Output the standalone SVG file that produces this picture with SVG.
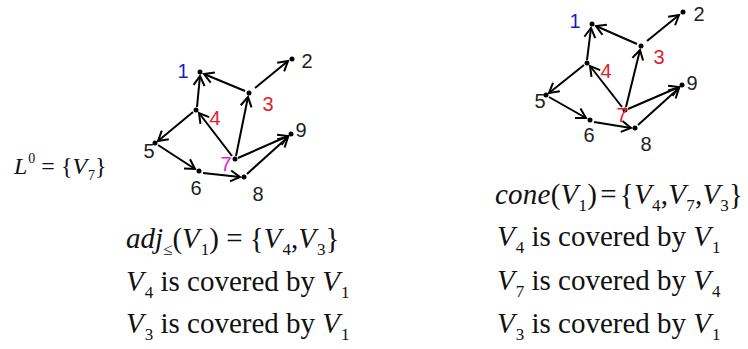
<svg xmlns="http://www.w3.org/2000/svg" width="748" height="349" viewBox="0 0 748 349">
<defs>
<marker id="arr" markerUnits="userSpaceOnUse" markerWidth="16" markerHeight="16" refX="12" refY="8" orient="auto">
<path d="M2.5,2.5 L12,8 L2.5,13.5" fill="none" stroke="#000" stroke-width="2" stroke-linejoin="miter"/>
</marker>
</defs>
<style>
.e{stroke:#000;stroke-width:2;fill:none;marker-end:url(#arr)}
.d{fill:#000}
.n{font-family:'Liberation Sans',Arial,sans-serif;font-size:20px;fill:#222}
.b{fill:#1a1acc}
.r{fill:#e3202a}
.m{fill:#e020e0}
.t{font-family:'Liberation Serif','Times New Roman',serif;font-size:29px;fill:#111}
.i{font-style:italic}
.s{font-size:17px}
</style>
<rect width="748" height="349" fill="#fff"/>
<g id="connectors-left">
<line class="e" x1="197" y1="107" x2="200" y2="76"/>
<line class="e" x1="245" y1="91" x2="204" y2="74"/>
<line class="e" x1="255" y1="88" x2="288" y2="61"/>
<line class="e" x1="193" y1="112" x2="158" y2="141"/>
<line class="e" x1="158" y1="145" x2="195" y2="169"/>
<line class="e" x1="203" y1="173" x2="240" y2="177"/>
<line class="e" x1="232" y1="156" x2="199" y2="113"/>
<line class="e" x1="236" y1="156" x2="248" y2="97"/>
<line class="e" x1="238" y1="158" x2="288" y2="136"/>
<line class="e" x1="247" y1="174" x2="288" y2="137"/>
</g>
<g id="L1"><circle class="d" cx="200" cy="72" r="2.5"/><text class="n b" x="183" y="78" text-anchor="middle">1</text></g>
<g id="L2"><circle class="d" cx="292" cy="59" r="2.5"/><text class="n" x="307" y="68" text-anchor="middle">2</text></g>
<g id="L3"><circle class="d" cx="249" cy="93" r="2.5"/><text class="n r" x="268" y="111" text-anchor="middle">3</text></g>
<g id="L4"><circle class="d" cx="196" cy="110" r="2.5"/><text class="n r" x="215" y="125" text-anchor="middle">4</text></g>
<g id="L5"><circle class="d" cx="155" cy="143" r="2.5"/><text class="n" x="149" y="158" text-anchor="middle">5</text></g>
<g id="L6"><circle class="d" cx="199" cy="171" r="2.5"/><text class="n" x="196" y="195" text-anchor="middle">6</text></g>
<g id="L7"><circle class="d" cx="235" cy="159" r="2.5"/><text class="n m" x="226" y="171" text-anchor="middle">7</text></g>
<g id="L8"><circle class="d" cx="244" cy="177" r="2.5"/><text class="n" x="258" y="201" text-anchor="middle">8</text></g>
<g id="L9"><circle class="d" cx="291" cy="134" r="2.5"/><text class="n" x="301" y="137" text-anchor="middle">9</text></g>

<g id="connectors-right">
<line class="e" x1="587" y1="60" x2="591" y2="28"/>
<line class="e" x1="637" y1="44" x2="596" y2="26"/>
<line class="e" x1="647" y1="41" x2="679" y2="15"/>
<line class="e" x1="584" y1="65" x2="549" y2="93"/>
<line class="e" x1="549" y1="97" x2="586" y2="118"/>
<line class="e" x1="594" y1="122" x2="631" y2="128"/>
<line class="e" x1="622" y1="107" x2="590" y2="66"/>
<line class="e" x1="626" y1="107" x2="640" y2="50"/>
<line class="e" x1="628" y1="109" x2="679" y2="87"/>
<line class="e" x1="638" y1="125" x2="679" y2="88"/>
</g>
<g id="R1"><circle class="d" cx="592" cy="24" r="2.5"/><text class="n b" x="575" y="28" text-anchor="middle">1</text></g>
<g id="R2"><circle class="d" cx="683" cy="12" r="2.5"/><text class="n" x="699" y="21" text-anchor="middle">2</text></g>
<g id="R3"><circle class="d" cx="641" cy="46" r="2.5"/><text class="n r" x="659" y="64" text-anchor="middle">3</text></g>
<g id="R4"><circle class="d" cx="587" cy="63" r="2.5"/><text class="n r" x="606" y="78" text-anchor="middle">4</text></g>
<g id="R5"><circle class="d" cx="546" cy="95" r="2.5"/><text class="n" x="540" y="108" text-anchor="middle">5</text></g>
<g id="R6"><circle class="d" cx="590" cy="120" r="2.5"/><text class="n" x="589" y="142" text-anchor="middle">6</text></g>
<g id="R7"><circle class="d" cx="625" cy="110" r="2.5"/><text class="n r" x="622" y="122" text-anchor="middle">7</text></g>
<g id="R8"><circle class="d" cx="635" cy="128" r="2.5"/><text class="n" x="646" y="151" text-anchor="middle">8</text></g>
<g id="R9"><circle class="d" cx="682" cy="85" r="2.5"/><text class="n" x="692" y="90" text-anchor="middle">9</text></g>

<g id="text-left">
<text class="t" x="14" y="174" style="font-size:24px"><tspan class="i">L</tspan><tspan dy="-11" dx="1" style="font-size:14px">0</tspan><tspan dy="11"> = {</tspan><tspan class="i">V</tspan><tspan dy="6" dx="1" style="font-size:14px">7</tspan><tspan dy="-6">}</tspan></text>
<text class="t" x="126" y="248"><tspan class="i">adj</tspan><tspan class="s" dy="7">≤</tspan><tspan dy="-7">(</tspan><tspan class="i">V</tspan><tspan class="s" dy="7" dx="1">1</tspan><tspan dy="-7">) = {</tspan><tspan class="i">V</tspan><tspan class="s" dy="7" dx="1">4</tspan><tspan dy="-7">,</tspan><tspan class="i">V</tspan><tspan class="s" dy="7" dx="1">3</tspan><tspan dy="-7">}</tspan></text>
<text class="t" x="126" y="291"><tspan class="i">V</tspan><tspan class="s" dy="7" dx="1">4</tspan><tspan dy="-7"> is covered by </tspan><tspan class="i">V</tspan><tspan class="s" dy="7" dx="1">1</tspan></text>
<text class="t" x="126" y="333"><tspan class="i">V</tspan><tspan class="s" dy="7" dx="1">3</tspan><tspan dy="-7"> is covered by </tspan><tspan class="i">V</tspan><tspan class="s" dy="7" dx="1">1</tspan></text>
</g>
<g id="text-right">
<text class="t" x="495" y="204" textLength="248" lengthAdjust="spacing"><tspan class="i">cone</tspan><tspan>(</tspan><tspan class="i">V</tspan><tspan class="s" dy="7">1</tspan><tspan dy="-7">)</tspan><tspan dx="3">=</tspan><tspan dx="3">{</tspan><tspan class="i">V</tspan><tspan class="s" dy="7">4</tspan><tspan dy="-7">,</tspan><tspan class="i">V</tspan><tspan class="s" dy="7">7</tspan><tspan dy="-7">,</tspan><tspan class="i">V</tspan><tspan class="s" dy="7">3</tspan><tspan dy="-7">}</tspan></text>
<text class="t" x="497" y="246"><tspan class="i">V</tspan><tspan class="s" dy="7" dx="1">4</tspan><tspan dy="-7"> is covered by </tspan><tspan class="i">V</tspan><tspan class="s" dy="7" dx="1">1</tspan></text>
<text class="t" x="497" y="290"><tspan class="i">V</tspan><tspan class="s" dy="7" dx="1">7</tspan><tspan dy="-7"> is covered by </tspan><tspan class="i">V</tspan><tspan class="s" dy="7" dx="1">4</tspan></text>
<text class="t" x="497" y="333"><tspan class="i">V</tspan><tspan class="s" dy="7" dx="1">3</tspan><tspan dy="-7"> is covered by </tspan><tspan class="i">V</tspan><tspan class="s" dy="7" dx="1">1</tspan></text>
</g>
</svg>
